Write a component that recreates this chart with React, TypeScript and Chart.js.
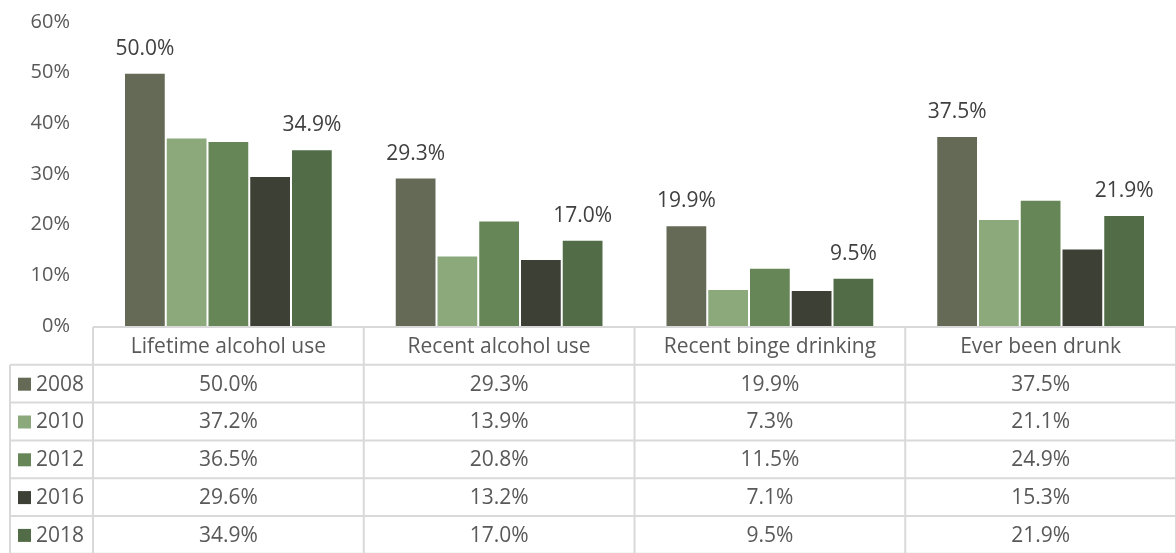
import React, { useEffect, useRef } from "react";
import { Chart, registerables } from "chart.js";

Chart.register(...registerables);

const categories = ["Lifetime alcohol use", "Recent alcohol use", "Recent binge drinking", "Ever been drunk"];
const years = ["2008", "2010", "2012", "2016", "2018"];
const values2008 = [50.0, 29.3, 19.9, 37.5];
const values2010 = [37.2, 13.9, 7.3, 21.1];
const values2012 = [36.5, 20.8, 11.5, 24.9];
const values2016 = [29.6, 13.2, 7.1, 15.3];
const values2018 = [34.9, 17.0, 9.5, 21.9];
const seriesValues = [values2008, values2010, values2012, values2016, values2018];
const seriesColors = ["#656a56", "#8ba97b", "#678658", "#3c4035", "#516c46"];
const labeledYears = ["2008", "2018"];
const yMin = 0;
const yMax = 60;
const yStep = 10;

const FONT = "'Open Sans', sans-serif";
const FONT_SIZE = 21;
const TEXT = "#595959";
const LABEL = "#404040";
const LINE = "#d9d9d9";

const fmt = (v: number) => v.toFixed(1) + "%";

const dataLabelPlugin = {
  id: "dataLabels",
  afterDatasetsDraw(chart: any) {
    const ctx = chart.ctx;
    ctx.save();
    ctx.font = `${FONT_SIZE}px ${FONT}`;
    ctx.fillStyle = LABEL;
    ctx.textAlign = "center";
    ctx.textBaseline = "alphabetic";
    chart.data.datasets.forEach((ds: any, di: number) => {
      if (!labeledYears.includes(ds.label)) return;
      const meta = chart.getDatasetMeta(di);
      meta.data.forEach((bar: any, i: number) => {
        ctx.fillText(fmt(ds.data[i]), bar.x, bar.y - 18);
      });
    });
    ctx.restore();
  },
};

const tablePlugin = {
  id: "dataTable",
  afterDraw(chart: any) {
    const ctx = chart.ctx;
    const xs = chart.scales.x;
    const area = chart.chartArea;
    const top = area.bottom + 1;
    const rowH = 37.8;
    const left = 10;
    const colLeft = area.left;
    const right = chart.width + 5;
    const nRows = years.length;
    ctx.save();
    ctx.strokeStyle = LINE;
    ctx.lineWidth = 2;
    ctx.beginPath();
    ctx.moveTo(colLeft, top);
    ctx.lineTo(right, top);
    for (let r = 1; r <= nRows + 1; r++) {
      const y = top + r * rowH;
      ctx.moveTo(left, y);
      ctx.lineTo(right, y);
    }
    ctx.moveTo(left, top + rowH);
    ctx.lineTo(left, top + (nRows + 1) * rowH);
    for (let c = 0; c <= categories.length; c++) {
      const x = colLeft + (c * (area.right - area.left)) / categories.length;
      ctx.moveTo(x, top);
      ctx.lineTo(x, top + (nRows + 1) * rowH);
    }
    ctx.stroke();

    ctx.font = `${FONT_SIZE}px ${FONT}`;
    ctx.fillStyle = TEXT;
    ctx.textBaseline = "middle";
    ctx.textAlign = "center";
    categories.forEach((c, i) => {
      ctx.fillText(c, xs.getPixelForValue(i), top + rowH / 2 + 1);
    });
    years.forEach((yr, r) => {
      const cy = top + (r + 1) * rowH + rowH / 2 + 1;
      ctx.fillStyle = seriesColors[r];
      ctx.fillRect(18, cy - 7, 13, 13);
      ctx.fillStyle = TEXT;
      ctx.textAlign = "left";
      ctx.fillText(yr, 36, cy);
      ctx.textAlign = "center";
      seriesValues[r].forEach((v, i) => {
        ctx.fillText(fmt(v), xs.getPixelForValue(i), cy);
      });
    });
    ctx.restore();
  },
};

export default function App() {
  const ref = useRef<HTMLCanvasElement | null>(null);
  useEffect(() => {
    document.body.style.margin = "0";
    const canvas = ref.current;
    if (!canvas) return;
    const chart = new Chart(canvas, {
      type: "bar",
      data: {
        labels: categories,
        datasets: years.map((y, i) => ({
          label: y,
          data: seriesValues[i],
          backgroundColor: seriesColors[i],
          borderColor: "#ffffff",
          borderWidth: 1,
          borderSkipped: "bottom",
          categoryPercentage: 0.771,
          barPercentage: 1,
        })),
      },
      options: {
        animation: false,
        responsive: false,
        maintainAspectRatio: false,
        layout: { padding: { top: 22, bottom: 227, left: 0, right: 0 } },
        plugins: { legend: { display: false }, tooltip: { enabled: false } },
        scales: {
          x: { display: false, grid: { display: false } },
          y: {
            min: yMin,
            max: yMax,
            grid: { display: false, drawTicks: false },
            border: { display: false },
            afterFit: (s: any) => {
              s.width = 93;
              s.paddingTop = 0;
              s.paddingBottom = 0;
            },
            ticks: {
              stepSize: yStep,
              padding: 23,
              color: TEXT,
              font: { family: FONT, size: 20 },
              callback: (v: any) => v + "%",
            },
          },
        },
      },
      plugins: [dataLabelPlugin, tablePlugin],
    });
    return () => chart.destroy();
  }, []);
  return <canvas ref={ref} width={1176} height={553} style={{ display: "block" }} />;
}
